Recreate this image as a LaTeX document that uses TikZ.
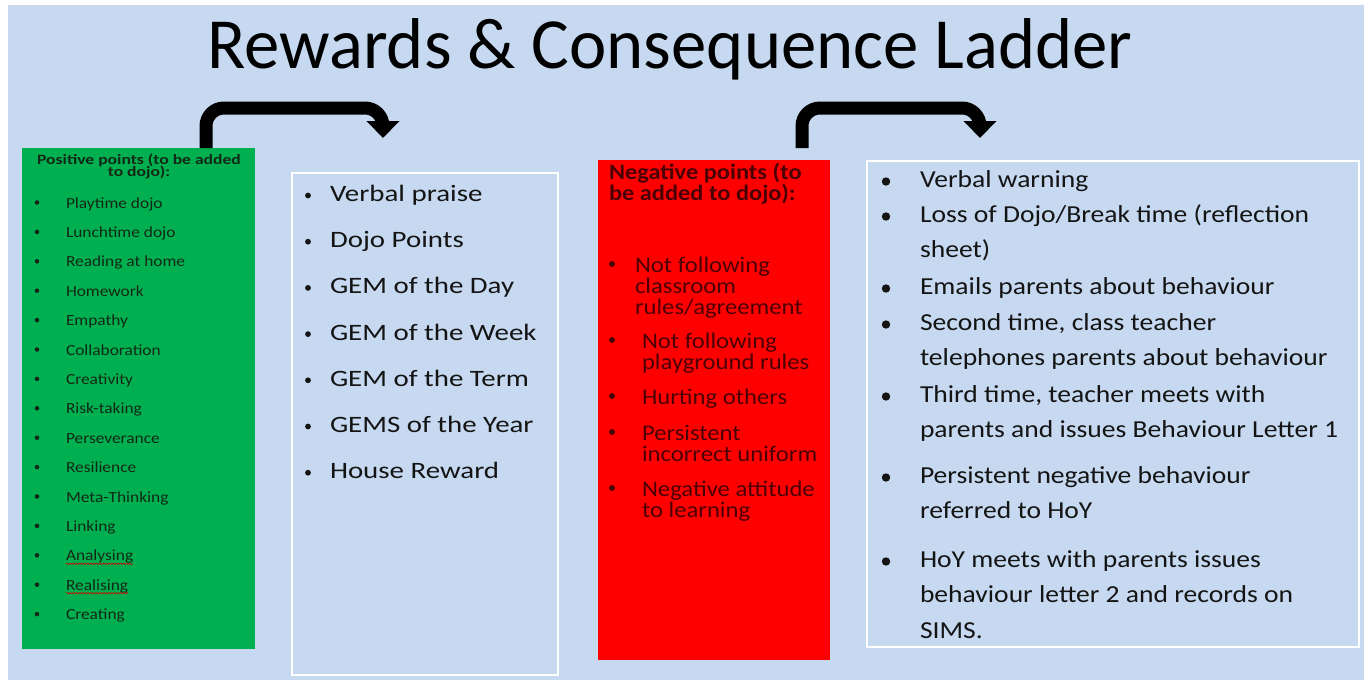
\documentclass[tikz,border=0pt]{standalone}
\usepackage{fontspec}
\setmainfont{Carlito}
\usepackage{graphicx}
\usetikzlibrary{arrows.meta,decorations.pathmorphing}
\definecolor{bg}{RGB}{198,217,240}
\definecolor{pgreen}{RGB}{0,176,80}
\definecolor{pred}{RGB}{255,0,0}
\definecolor{gtext}{RGB}{18,40,22}
\definecolor{rtext}{RGB}{75,0,5}
\definecolor{btext}{RGB}{20,20,20}
\newcommand{\mylines}[1]{\vtop{\lineskiplimit=-1000pt\lineskip=0pt\let\\\cr\halign{##\hfil\cr#1\cr}}}
\newcommand{\mycenter}[1]{\vtop{\lineskiplimit=-1000pt\lineskip=0pt\let\\\cr\halign{\hfil##\hfil\cr#1\cr}}}
\newcommand{\sx}[2]{\scalebox{#1}[1]{#2}}
\begin{document}
\begin{tikzpicture}[x=1pt,y=-1pt,
  every node/.style={inner sep=0pt, outer sep=0pt},
  rect/.style={anchor=north west},
  panel/.style={draw=white, line width=1.5pt, fill=bg, anchor=north west},
  gitem/.style={anchor=base west, text=gtext, font=\fontsize{15.5}{20}\selectfont},
  ritem/.style={anchor=base west, text=btext, font=\fontsize{23.5}{32}\selectfont},
  nitem/.style={anchor=base west, text=rtext, font=\fontsize{22.3}{21}\selectfont},
  citem/.style={anchor=base west, text=btext, font=\fontsize{24.4}{35.6}\selectfont},
  bigarrow/.style={line width=13pt, rounded corners=18pt, -{Triangle[width=32pt,length=17pt]}},
  squig/.style={draw=red!80!black, line width=0.6pt, decorate, decoration={snake, amplitude=0.8pt, segment length=3pt}}
]
\useasboundingbox (0,0) rectangle (1367,680);
\fill[white] (0,0) rectangle (1367,680);
\fill[bg] (8,5) rectangle (1364,680);

% title
\node[anchor=base, font=\fontsize{72}{80}\selectfont] (title) at (670,68)
  {\resizebox{925pt}{\height}{Rewards \& Consequence Ladder}};

% boxes
\node[rect, fill=pgreen, minimum width=233pt, minimum height=501pt] (green) at (22,148) {};
\node[panel, minimum width=266pt, minimum height=502pt] (rewards) at (292,173) {};
\node[rect, fill=pred, minimum width=232pt, minimum height=500pt] (neg) at (598,160) {};
\node[panel, minimum width=492pt, minimum height=486pt] (cons) at (867,161) {};

% arrows
\coordinate (a1c) at (383,108);
\coordinate (a1e) at (383,138);
\draw[bigarrow] ([xshift=184pt]green.north west) |- (a1c) -- (a1e);
\coordinate (a2c) at (980,108);
\coordinate (a2e) at (980,138);
\draw[bigarrow] ([xshift=204pt,yshift=12pt]neg.north west) |- (a2c) -- (a2e);

% green box
\node[anchor=base, text=gtext, font=\bfseries\fontsize{14.3}{12}\selectfont] (ghead) at (139,164)
  {\sx{1.23}{\mycenter{Positive points (to be added\\to dojo):}}};
\foreach \t [count=\i] in {Playtime dojo, Lunchtime dojo, Reading at home, Homework, Empathy,
  Collaboration, Creativity, Risk-taking, Perseverance, Resilience, Meta-Thinking, Linking,
  Analysing, Realising, Creating} {
  \pgfmathsetmacro{\yy}{208+29.4*(\i-1)}
  \node[gitem] (g\i) at (66,\yy) {\sx{1.12}{\t}};
  \fill[gtext] (37,\yy-5.5) circle (2.3);
}
\draw[squig] ([yshift=-3pt]g13.base west) -- ([yshift=-3pt]g13.base east);
\draw[squig] ([yshift=-3pt]g14.base west) -- ([yshift=-3pt]g14.base east);

% rewards box
\foreach \t [count=\i] in {Verbal praise, Dojo Points, GEM of the Day, GEM of the Week,
  GEM of the Term, GEMS of the Year, House Reward} {
  \pgfmathsetmacro{\yy}{201.5+46.2*(\i-1)}
  \node[ritem] (r\i) at (330,\yy) {\sx{1.23}{\t}};
  \fill[btext] (308,\yy-6) circle (2.9);
}

% negative box
\node[anchor=base west, text=rtext, font=\bfseries\fontsize{22}{21}\selectfont] (nhead) at (609,179)
  {\sx{1.11}{\mylines{Negative points (to\\be added to dojo):}}};
\foreach \x/\y/\t [count=\i] in {635/272/{Not following\\classroom\\rules/agreement},
  642/348/{Not following\\playground rules}, 642/404/{Hurting others},
  642/440/{Persistent\\incorrect uniform}, 642/496/{Negative attitude\\to learning}} {
  \node[nitem] (n\i) at (\x,\y) {\sx{1.107}{\mylines{\t}}};
  \fill[rtext] (612,\y-8) circle (3);
}

% consequence box
\foreach \y/\t [count=\i] in {187/{Verbal warning},
  222/{Loss of Dojo/Break time (reflection\\sheet)},
  294/{Emails parents about behaviour},
  330/{Second time, class teacher\\telephones parents about behaviour},
  402/{Third time, teacher meets with\\parents and issues Behaviour Letter 1},
  483/{Persistent negative behaviour\\referred to HoY},
  567/{HoY meets with parents issues\\behaviour letter 2 and records on\\SIMS.}} {
  \node[citem] (c\i) at (920,\y) {\sx{1.13}{\mylines{\t}}};
  \fill[btext] (886,\y-5.5) circle (4.2);
}
\end{tikzpicture}
\end{document}
